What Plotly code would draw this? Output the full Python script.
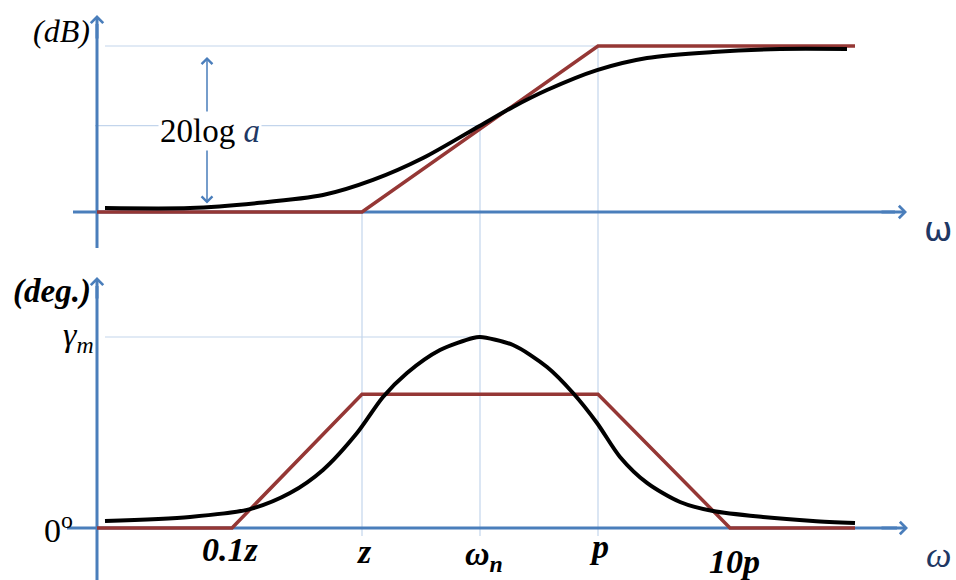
import plotly.graph_objects as go

# ---------------- data (sketch units: x = log-frequency position, y normalised) ----------------
# key frequencies on the horizontal axis
tick_labels = ["0.1z", "z", "ω<sub>n</sub>", "p", "10p"]
tick_pos = [1.35, 2.65, 3.83, 5.01, 6.33]

# magnitude (normalised: 20log a = 1)
mag_freq = [0.08, 0.93, 1.60, 2.26, 2.76, 3.26, 3.83, 4.16, 4.50, 5.00, 5.50, 6.16, 6.83, 7.50]
mag_exact = [0.024, 0.024, 0.054, 0.102, 0.193, 0.325, 0.52, 0.633, 0.735, 0.855, 0.928, 0.964, 0.982, 0.982]
mag_asym_freq = [0.0, 2.65, 5.01, 7.58]
mag_asym = [0.0, 0.0, 1.0, 1.0]

# phase (normalised: gamma_m = 1)
ph_freq = [0.08, 0.93, 1.53, 1.93, 2.26, 2.60, 2.86, 3.10, 3.43, 3.76, 3.83, 4.16, 4.50,
           4.76, 5.00, 5.23, 5.50, 5.83, 6.16, 6.66, 7.16, 7.58]
ph_exact = [0.037, 0.058, 0.099, 0.183, 0.304, 0.497, 0.686, 0.812, 0.932, 0.995, 1.0, 0.958,
            0.843, 0.707, 0.550, 0.372, 0.236, 0.136, 0.089, 0.058, 0.037, 0.026]
ph_asym_freq = [0.0, 1.35, 2.65, 5.01, 6.33, 7.58]
ph_asym = [0.0, 0.0, 0.70, 0.70, 0.0, 0.0]

# ---------------- styling ----------------
RED = "#953735"
BLUE = "#4a7ebb"
GRID = "#c3d5ec"
NAVY = "#1f3864"
SERIF = "Liberation Serif"


def X(px):
    return (px - 97) / 100.0


def YM(py):
    return (212 - py) / 166.0


def YP(py):
    return (528 - py) / 191.0


fig = go.Figure()

fig.add_trace(go.Scatter(x=mag_asym_freq, y=mag_asym, mode="lines",
                         line=dict(color=RED, width=3.5), yaxis="y", hoverinfo="skip"))
fig.add_trace(go.Scatter(x=mag_freq, y=mag_exact, mode="lines",
                         line=dict(color="black", width=4, shape="spline", smoothing=0.8),
                         yaxis="y", hoverinfo="skip"))
fig.add_trace(go.Scatter(x=ph_asym_freq, y=ph_asym, mode="lines",
                         line=dict(color=RED, width=3.5), yaxis="y2", hoverinfo="skip"))
fig.add_trace(go.Scatter(x=ph_freq, y=ph_exact, mode="lines",
                         line=dict(color="black", width=4, shape="spline", smoothing=0.8),
                         yaxis="y2", hoverinfo="skip"))

shapes = []
# grid / guide lines
z_x, wn_x, p_x = tick_pos[1], tick_pos[2], tick_pos[3]
wn_mag = mag_exact[mag_freq.index(wn_x)]
shapes.append(dict(type="line", xref="x", yref="y", x0=X(105), x1=p_x, y0=1, y1=1,
                   line=dict(color=GRID, width=1.2), layer="below"))
shapes.append(dict(type="line", xref="x", yref="y", x0=X(95), x1=wn_x, y0=wn_mag, y1=wn_mag,
                   line=dict(color=GRID, width=1.2), layer="below"))
shapes.append(dict(type="line", xref="x", yref="y2", x0=X(105), x1=wn_x, y0=1, y1=1,
                   line=dict(color=GRID, width=1.2), layer="below"))
shapes.append(dict(type="line", xref="x", yref="y2", x0=z_x, x1=z_x, y0=YP(212), y1=YP(536),
                   line=dict(color=GRID, width=1.2), layer="below"))
shapes.append(dict(type="line", xref="x", yref="y2", x0=wn_x, x1=wn_x, y0=YP(125), y1=YP(536),
                   line=dict(color=GRID, width=1.2), layer="below"))
shapes.append(dict(type="line", xref="x", yref="y2", x0=p_x, x1=p_x, y0=YP(46), y1=YP(536),
                   line=dict(color=GRID, width=1.2), layer="below"))
# drawn axes
shapes.append(dict(type="line", xref="x", yref="y", x0=0, x1=0, y0=YM(248), y1=YM(24),
                   line=dict(color=BLUE, width=3), layer="below"))
shapes.append(dict(type="line", xref="x", yref="y", x0=X(73), x1=X(895), y0=0, y1=0,
                   line=dict(color=BLUE, width=3), layer="below"))
shapes.append(dict(type="line", xref="x", yref="y2", x0=0, x1=0, y0=YP(580), y1=YP(286),
                   line=dict(color=BLUE, width=3), layer="below"))
shapes.append(dict(type="line", xref="x", yref="y2", x0=X(67), x1=X(897), y0=0, y1=0,
                   line=dict(color=BLUE, width=3), layer="below"))

ann = []


def arrow(x, y, ax, ay, yref):
    ann.append(dict(x=x, y=y, ax=ax, ay=ay, xref="x", yref=yref, axref="x", ayref=yref,
                    text="", showarrow=True, arrowhead=4, arrowwidth=3, arrowsize=0.8,
                    arrowcolor=BLUE))


arrow(0, YM(15), 0, YM(40), "y")
arrow(X(907), 0, X(880), 0, "y")
arrow(0, YP(277), 0, YP(300), "y2")
arrow(X(908), 0, X(880), 0, "y2")

# 20 log a double arrow
ann.append(dict(x=X(207), y=YM(57), ax=X(207), ay=YM(205), xref="x", yref="y", axref="x", ayref="y",
                text="", showarrow=True, arrowside="end+start", arrowhead=4, startarrowhead=4,
                arrowwidth=1.5, arrowsize=1.4, startarrowsize=1.4, arrowcolor=BLUE))
ann.append(dict(x=X(210), y=YM(131), xref="x", yref="y", showarrow=False,
                text="20log<i><span style='color:#1f3864'> a</span></i>",
                font=dict(family=SERIF, size=33, color="black"), bgcolor="white",
                xanchor="center", yanchor="middle"))


def label(text, px, py, yconv, yref, size, family=SERIF, style="italic", color="black",
          xanchor="center", weight="normal"):
    ann.append(dict(x=X(px), y=yconv(py), xref="x", yref=yref, text=text, showarrow=False,
                    xanchor=xanchor, yanchor="middle",
                    font=dict(family=family, size=size, color=color, style=style, weight=weight)))


label("(dB)", 61, 31, YM, "y", 32)
label("(deg.)", 52, 291, YM, "y", 33, weight="bold")
label("γ<sub>m</sub>", 96, 337, YP, "y2", 34, xanchor="right")
label("0<sup>o</sup>", 75, 528, YP, "y2", 34, style="normal", xanchor="right")
label("ω", 938, 229, YM, "y", 34, family="DejaVu Sans", style="normal", color=NAVY)
label("ω", 938, 555, YP, "y2", 36, color=NAVY)

tick_px = [230, 364, 484, 599, 734]
tick_py = [549, 551, 556, 546, 561]
for t, px, py in zip(tick_labels, tick_px, tick_py):
    label(t, px, py, YP, "y2", 34, weight="bold")

fig.update_layout(
    width=956, height=580,
    margin=dict(l=0, r=0, t=0, b=0),
    paper_bgcolor="white", plot_bgcolor="white",
    showlegend=False,
    xaxis=dict(range=[X(0), X(956)], visible=False, domain=[0, 1], fixedrange=True),
    yaxis=dict(range=[YM(580), YM(0)], visible=False, domain=[0, 1], fixedrange=True),
    yaxis2=dict(range=[YP(580), YP(0)], visible=False, overlaying="y", fixedrange=True),
    shapes=shapes,
    annotations=ann,
)

fig.write_html("out.html", config=dict(displayModeBar=False))
